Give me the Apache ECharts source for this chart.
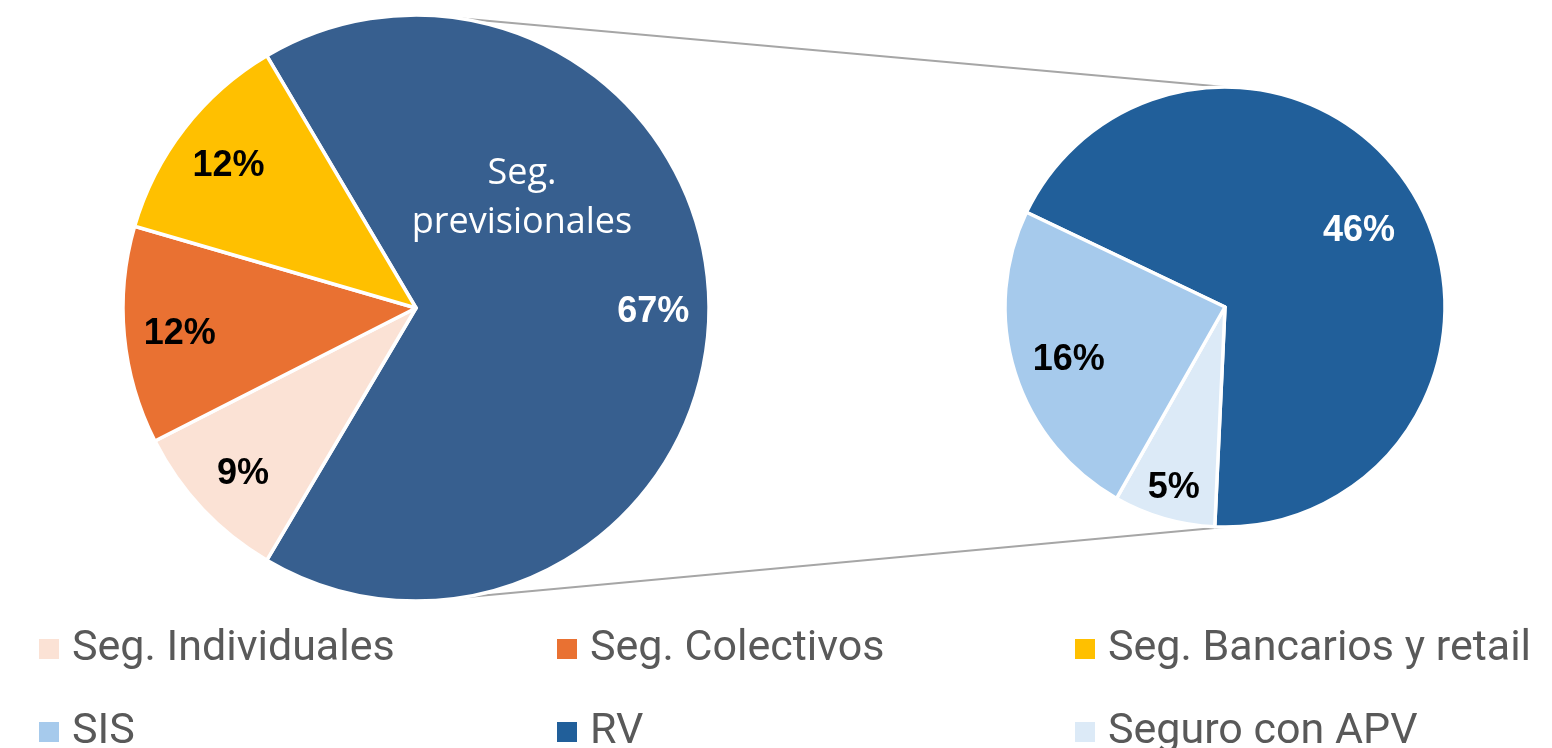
<!DOCTYPE html>
<html>
<head>
<meta charset="utf-8">
<script src="https://cdn.jsdelivr.net/npm/echarts@6/dist/echarts.min.js"></script>
<style>
html, body { margin: 0; padding: 0; background: #fff; }
#chart { width: 1552px; height: 748px; }
</style>
</head>
<body>
<div id="chart"></div>
<script>
// datos del grafico
var leftNames = ['Seg. previsionales', 'Seg. Individuales', 'Seg. Colectivos', 'Seg. Bancarios y retail'];
var leftValues = [67, 9, 12, 12];
var rightNames = ['RV', 'Seguro con APV', 'SIS'];
var rightValues = [46, 5, 16];
var legendRow1 = ['Seg. Individuales', 'Seg. Colectivos', 'Seg. Bancarios y retail'];
var legendRow2 = ['SIS', 'RV', 'Seguro con APV'];

var colors = {
    'Seg. previsionales': '#375f8f',
    'Seg. Individuales': '#fbe2d5',
    'Seg. Colectivos': '#e97132',
    'Seg. Bancarios y retail': '#ffc000',
    'RV': '#215f9a',
    'Seguro con APV': '#dceaf7',
    'SIS': '#a6caec'
};
var whiteLabels = ['Seg. previsionales', 'RV'];

// geometria
var L = { cx: 416, cy: 308, r: 293, labelR: [0.81, 0.81, 0.81, 0.81] };
var R = { cx: 1225, cy: 307, r: 220, start: 154.5, labelR: [0.71, 0.84, 0.745] };

function sum(arr) { return arr.reduce(function (a, b) { return a + b; }, 0); }
L.start = 360 * leftValues[0] / sum(leftValues) / 2;

function midAngles(values, start) {
    var total = sum(values), a = start, out = [];
    values.forEach(function (v) {
        var span = 360 * v / total;
        out.push(a - span / 2);
        a -= span;
    });
    return out;
}

function labelPos(pie, mids) {
    return function (p) {
        var a = mids[p.dataIndex] * Math.PI / 180;
        var rr = pie.r * pie.labelR[p.dataIndex];
        return {
            x: pie.cx + rr * Math.cos(a),
            y: pie.cy - rr * Math.sin(a) + 4,
            align: 'center',
            verticalAlign: 'middle'
        };
    };
}

function pieData(names, values) {
    return names.map(function (n, i) {
        return {
            name: n,
            value: values[i],
            itemStyle: { color: colors[n] },
            label: { color: whiteLabels.indexOf(n) >= 0 ? '#ffffff' : '#000000' }
        };
    });
}

function pointOn(pie, deg) {
    var a = deg * Math.PI / 180;
    return [pie.cx + pie.r * Math.cos(a), pie.cy - pie.r * Math.sin(a)];
}

var pieLabel = {
    show: true,
    position: 'inside',
    formatter: function (p) { return p.value + '%'; },
    fontFamily: 'Liberation Sans',
    fontWeight: 'bold',
    fontSize: 36
};

var legends = [];
[legendRow1, legendRow2].forEach(function (row, ri) {
    row.forEach(function (name, ci) {
        legends.push({
            data: [name],
            left: 37 + ci * 518,
            top: ri === 0 ? 627 : 710,
            padding: 0,
            orient: 'horizontal',
            icon: 'rect',
            itemWidth: 22,
            itemHeight: 22,
            selectedMode: false,
            textStyle: {
                fontFamily: 'Roboto',
                fontSize: 43,
                lineHeight: 44,
                color: '#595959',
                padding: [0, 0, 0, 7]
            }
        });
    });
});

var t1 = pointOn(L, 81), t2 = pointOn(R, 90);
var b1 = pointOn(L, -81), b2 = pointOn(R, -90);

var chart = echarts.init(document.getElementById('chart'));
var option = {
    animation: false,
    backgroundColor: '#ffffff',
    legend: legends,
    graphic: [
        { type: 'line', z: 0, shape: { x1: t1[0], y1: t1[1], x2: t2[0], y2: t2[1] }, style: { stroke: '#a6a6a6', lineWidth: 2 } },
        { type: 'line', z: 0, shape: { x1: b1[0], y1: b1[1], x2: b2[0], y2: b2[1] }, style: { stroke: '#a6a6a6', lineWidth: 2 } },
        {
            type: 'text', z: 100,
            x: L.cx + 106, y: L.cy - 110,
            style: {
                text: 'Seg.\nprevisionales',
                fill: '#ffffff',
                font: '36px "Open Sans"',
                lineHeight: 49,
                align: 'center',
                verticalAlign: 'middle'
            }
        }
    ],
    series: [
        {
            name: 'Total',
            type: 'pie',
            center: [L.cx, L.cy],
            radius: [0, L.r],
            startAngle: L.start,
            clockwise: true,
            avoidLabelOverlap: false,
            itemStyle: { borderColor: '#ffffff', borderWidth: 3.5 },
            label: pieLabel,
            labelLine: { show: false },
            labelLayout: labelPos(L, midAngles(leftValues, L.start)),
            emphasis: { scale: false },
            data: pieData(leftNames, leftValues)
        },
        {
            name: 'Previsionales',
            type: 'pie',
            center: [R.cx, R.cy],
            radius: [0, R.r],
            startAngle: R.start,
            clockwise: true,
            avoidLabelOverlap: false,
            itemStyle: { borderColor: '#ffffff', borderWidth: 3.5 },
            label: pieLabel,
            labelLine: { show: false },
            labelLayout: labelPos(R, midAngles(rightValues, R.start)),
            emphasis: { scale: false },
            data: pieData(rightNames, rightValues)
        }
    ]
};
chart.setOption(option);
</script>
</body>
</html>
